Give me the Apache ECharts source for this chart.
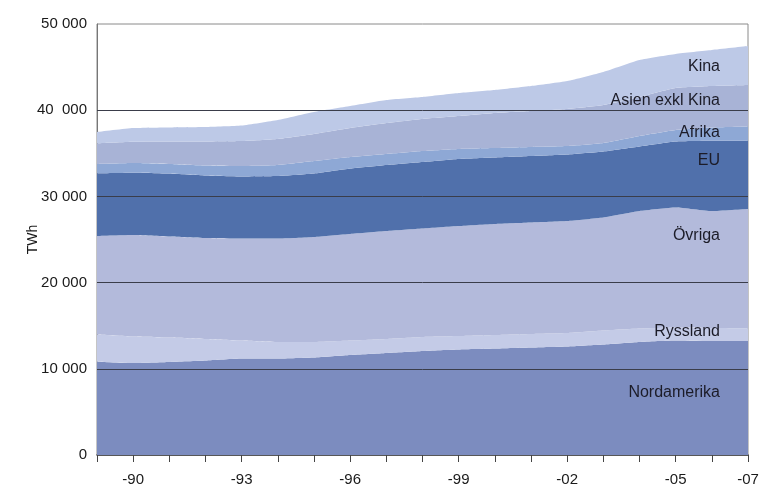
<!DOCTYPE html>
<html>
<head>
<meta charset="utf-8">
<script src="https://cdn.jsdelivr.net/npm/echarts@6/dist/echarts.min.js"></script>
<style>html,body{margin:0;padding:0;background:#fff;}#c{width:765px;height:494px;}</style>
</head>
<body>
<div id="c"></div>
<script>
const years = ['1989','1990','1991','1992','1993','1994','1995','1996','1997','1998','1999','2000','2001','2002','2003','2004','2005','2006','2007'];
const xLabels = ['', '-90', '', '', '-93', '', '', '-96', '', '', '-99', '', '', '-02', '', '', '-05', '', '-07'];
const yLabels = ['0', '10 000', '20 000', '30 000', '40  000', '50 000'];

const nordamerika = [10820,10670,10790,10960,11190,11190,11310,11600,11830,12060,12240,12350,12470,12590,12820,13110,13280,13220,13220];
const ryssland    = [3160,3080,2840,2500,2090,1920,1800,1680,1630,1630,1560,1570,1570,1560,1620,1560,1510,1510,1480];
const ovriga      = [11420,11770,11720,11710,11830,12000,12180,12360,12520,12580,12760,12880,12930,12990,13110,13630,13920,13570,13840];
const eu          = [7280,7230,7300,7250,7200,7250,7360,7590,7660,7720,7780,7710,7710,7720,7660,7490,7660,8160,7920];
const afrika      = [1080,1120,1110,1160,1210,1280,1450,1340,1280,1270,1160,1100,1050,980,980,1210,1330,1530,1650];
const asien       = [2400,2470,2610,2790,2900,3020,3140,3360,3590,3720,3820,4060,4170,4300,4410,4530,4870,4810,4810];
const kina        = [1310,1590,1630,1680,1800,2200,2550,2550,2670,2550,2670,2670,2900,3240,3830,4290,3950,4180,4520];

const gridValues = [10000, 20000, 30000, 40000];

const seriesDefs = [
  {name: 'Nordamerika', data: nordamerika, color: '#7c8cbf'},
  {name: 'Ryssland', data: ryssland, color: '#c4cbe7'},
  {name: 'Övriga', data: ovriga, color: '#b3badb'},
  {name: 'EU', data: eu, color: '#5070ab'},
  {name: 'Afrika', data: afrika, color: '#8ea8d5'},
  {name: 'Asien exkl Kina', data: asien, color: '#a8b3d6'},
  {name: 'Kina', data: kina, color: '#bdc9e7'}
];

const FONT = 'Liberation Sans, Arial, sans-serif';
const labelFont = {fontFamily: FONT, fontSize: 16, fill: '#1c1c28'};
const labelPos = [
  {text: 'Kina', y: 68},
  {text: 'Asien exkl Kina', y: 102},
  {text: 'Afrika', y: 134},
  {text: 'EU', y: 162},
  {text: 'Övriga', y: 237},
  {text: 'Ryssland', y: 333},
  {text: 'Nordamerika', y: 394}
];

const series = seriesDefs.map((s, i) => {
  const o = {
    name: s.name,
    type: 'line',
    stack: 'total',
    data: s.data,
    showSymbol: false,
    symbol: 'none',
    smooth: 0.15,
    lineStyle: {width: 0},
    areaStyle: {color: s.color, opacity: 1},
    itemStyle: {color: s.color},
    silent: true
  };
  if (i === seriesDefs.length - 1) {
    o.markLine = {
      silent: true,
      symbol: ['none', 'none'],
      label: {show: false},
      lineStyle: {color: '#3a3d4a', width: 1, type: 'solid'},
      data: gridValues.map(v => ({yAxis: v}))
    };
  }
  return o;
});

const chart = echarts.init(document.getElementById('c'), null, {renderer: 'canvas'});
chart.setOption({
  animation: false,
  backgroundColor: '#ffffff',
  grid: {left: 97, right: 17, top: 24, bottom: 39, show: true, borderColor: '#8a8a8a', borderWidth: 1, backgroundColor: 'transparent'},
  xAxis: {
    type: 'category',
    data: years,
    boundaryGap: false,
    axisLine: {show: true, lineStyle: {color: '#333', width: 1.5}},
    axisTick: {show: true, interval: 0, length: 7, lineStyle: {color: '#444', width: 1}},
    axisLabel: {
      interval: 0,
      color: '#1a1a1a',
      fontFamily: FONT,
      fontSize: 15,
      margin: 17,
      formatter: (v, idx) => xLabels[idx]
    },
    splitLine: {show: false}
  },
  yAxis: {
    type: 'value',
    min: 0,
    max: 50000,
    interval: 10000,
    name: 'TWh',
    nameLocation: 'middle',
    nameGap: 57,
    nameMoveOverlap: false,
    nameRotate: 90,
    nameTextStyle: {color: '#1a1a1a', fontFamily: FONT, fontSize: 14},
    axisLine: {show: true, lineStyle: {color: '#777', width: 1}},
    axisTick: {show: false},
    splitLine: {show: false},
    axisLabel: {
      color: '#1a1a1a',
      fontFamily: FONT,
      fontSize: 15,
      margin: 10,
      formatter: v => yLabels[Math.round(v / 10000)]
    }
  },
  series: series,
  graphic: labelPos.map(l => ({
    type: 'text',
    right: 45,
    top: l.y - 9,
    z: 100,
    style: Object.assign({text: l.text}, labelFont)
  }))
});
</script>
</body>
</html>
